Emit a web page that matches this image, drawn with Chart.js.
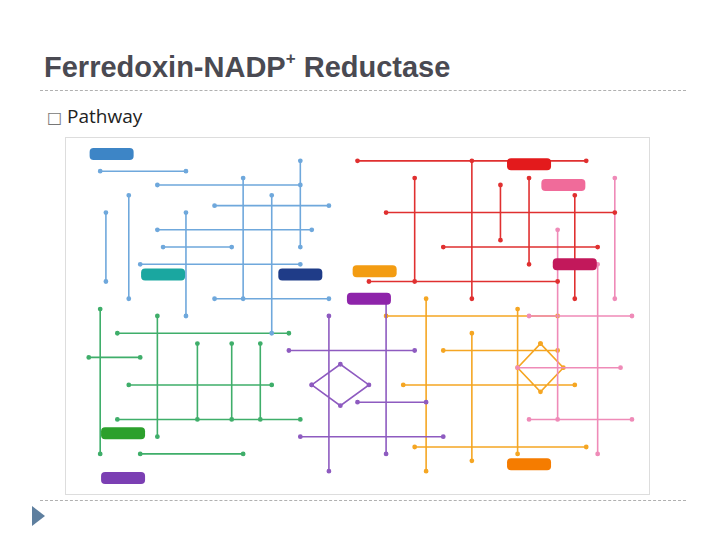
<!DOCTYPE html>
<html><head><meta charset="utf-8">
<script src="https://cdn.jsdelivr.net/npm/chart.js@4/dist/chart.umd.min.js"></script>
<style>
body{margin:0;width:720px;height:540px;background:#fff;position:relative;overflow:hidden;font-family:"Liberation Sans",Arial,sans-serif}
#title{position:absolute;left:44px;top:51px;font-size:29px;font-weight:bold;color:#4a4a52;white-space:nowrap}
#title sup{font-size:17px;position:relative;top:-2px}
.dash{position:absolute;left:40px;width:646px;border-top:1px dashed #b0b0b0}
#bul{position:absolute;left:47px;top:103px;font-size:19px;color:#222;font-family:"Open Sans",sans-serif}
#bul span{color:#777;font-family:"DejaVu Sans";font-size:16px}
#tri{position:absolute;left:32px;top:506px;width:0;height:0;border-top:10px solid transparent;border-bottom:10px solid transparent;border-left:13px solid #5e7f9f}
#wrap{position:absolute;left:65px;top:137px;width:583px;height:356px;border:1px solid #ddd}
</style></head><body>
<div id="title">Ferredoxin-NADP<sup>+</sup> Reductase</div>
<div class="dash" style="top:90px"></div>
<div id="bul"><span>&#x25A1;</span> Pathway</div>
<div id="wrap"><canvas id="c"></canvas></div>
<div class="dash" style="top:500px"></div>
<div id="tri"></div>
<script>
const blue=[[5,8],[20,8],null,[10,15],[10,45],null,[15,12],[40,12],null,[20,20],[20,50],null,[25,18],[45,18],null,[30,10],[30,45],null,[15,25],[42,25],null,[35,15],[35,55],null,[12,35],[40,35],null,[40,5],[40,30],null,[25,45],[45,45],null,[6,20],[6,40],null,[16,30],[28,30]];
const green=[[5,48],[5,90],null,[8,55],[38,55],null,[15,50],[15,85],null,[22,58],[22,80],null,[28,58],[28,80],null,[33,58],[33,80],null,[8,80],[40,80],null,[10,70],[35,70],null,[12,90],[30,90],null,[3,62],[12,62]];
const purple=[[38,60],[60,60],null,[45,50],[45,95],null,[40,85],[65,85],null,[55,45],[55,90],null,[50,75],[62,75],null,[42,70],[47,64],[52,70],[47,76],[42,70]];
const red=[[50,5],[90,5],null,[60,10],[60,40],null,[55,20],[95,20],null,[70,5],[70,45],null,[80,10],[80,35],null,[65,30],[92,30],null,[88,15],[88,45],null,[52,40],[85,40],null,[75,12],[75,28]];
const pink=[[80,50],[98,50],null,[85,25],[85,80],null,[92,35],[92,90],null,[78,65],[96,65],null,[80,80],[98,80],null,[95,10],[95,45]];
const orange=[[55,50],[85,50],null,[62,45],[62,95],null,[70,55],[70,92],null,[78,48],[78,90],null,[58,70],[88,70],null,[60,88],[90,88],null,[65,60],[85,60],null,[82,58],[86,65],[82,72],[78,65],[82,58]];
const labels=[[7,3,"#3d85c6"],[80,6,"#e31a1c"],[86,12,"#f06b9a"],[88,35,"#c2185b"],[16,38,"#1aa7a0"],[40,38,"#1f3c88"],[53,37,"#f39c12"],[52,45,"#8e24aa"],[9,84,"#2ca02c"],[9,97,"#7b3fb3"],[80,93,"#f57c00"]];
const sets=[[blue,"#6fa8dc"],[green,"#3fae6a"],[purple,"#8e5bc0"],[red,"#e03030"],[pink,"#ef8bb8"],[orange,"#f5a623"]];
const ds=sets.map(([d,c])=>({data:d.map(p=>p?{x:p[0],y:p[1]}:{x:null,y:null}),borderColor:c,backgroundColor:c,showLine:true,spanGaps:false,borderWidth:1.6,pointRadius:1.6}));
const lab={id:'lab',afterDatasetsDraw(ch){const {ctx,scales:{x,y}}=ch;labels.forEach(([a,b,c])=>{const px=x.getPixelForValue(a),py=y.getPixelForValue(b);ctx.fillStyle=c;ctx.beginPath();ctx.roundRect(px-22,py-6,44,12,4);ctx.fill();});}};
new Chart(document.getElementById('c'),{type:'scatter',data:{datasets:ds},plugins:[lab],
options:{responsive:true,maintainAspectRatio:false,animation:false,
plugins:{legend:{display:false},tooltip:{enabled:false}},
scales:{x:{min:0,max:100,display:false},y:{min:0,max:100,reverse:true,display:false}}}});
</script></body></html>
